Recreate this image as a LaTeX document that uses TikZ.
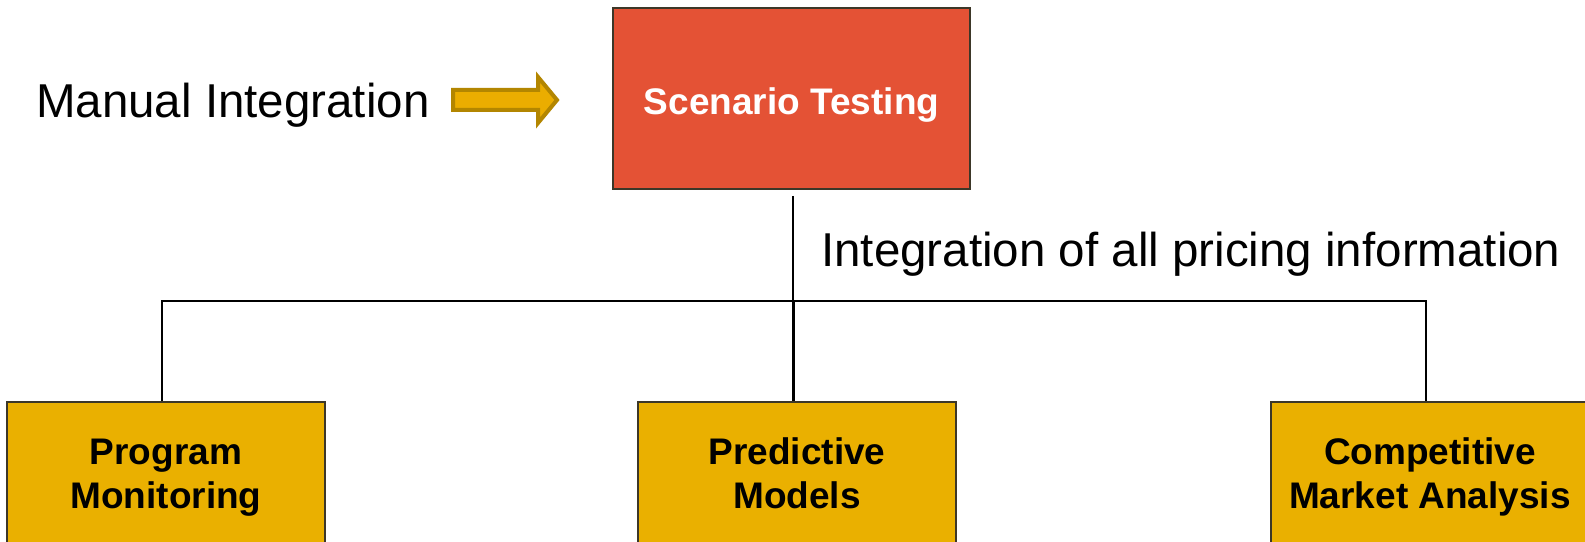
\documentclass[tikz,border=0pt]{standalone}
\usepackage{fontspec}
\setmainfont{Liberation Sans}
\definecolor{topfill}{RGB}{228,82,53}
\definecolor{boxfill}{RGB}{234,176,0}
\definecolor{arrfill}{RGB}{235,173,0}
\definecolor{arrline}{RGB}{179,134,0}
\definecolor{edge}{RGB}{60,55,40}
\tikzset{
  bigtext/.style={font=\fontsize{47.5bp}{57bp}\selectfont, inner sep=0pt, anchor=base west},
  topbox/.style={draw=edge, line width=1.5bp, fill=topfill, text=white, inner sep=0pt,
    minimum width=357bp, minimum height=181bp,
    font=\fontsize{37bp}{44bp}\selectfont\bfseries, text height=32.5bp, text depth=0bp},
  botbox/.style={draw=edge, line width=1.5bp, fill=boxfill, text=black, inner sep=0pt,
    minimum width=318bp, minimum height=150.4bp, align=center,
    font=\fontsize{37bp}{44bp}\selectfont\bfseries},
  conn/.style={draw=black, line width=2bp},
  fatarrow/.style={draw=arrline, fill=arrfill, line width=4bp, line join=miter}
}
\begin{document}
\begin{tikzpicture}[x=1bp,y=-1bp]
\useasboundingbox (0,0) rectangle (1585,542);
% nodes
\node[topbox] (st) at (791.5,98.5) {Scenario Testing};
\node[botbox] (pm) at (166,477.2) {\strut Program\\Monitoring\strut};
\node[botbox] (pd) at (797,477.2) {\strut Predictive\\Models\strut};
\node[botbox] (cm) at (1430,477.2) {\strut Competitive\\Market Analysis\strut};
\node[bigtext] (mi) at (36,118) {Manual Integration};
\node[bigtext] (ip) at (821,267) {Integration of all pricing information};
% arrow
\draw[fatarrow] (453,90) -- (538,90) -- (538,77) -- (557,100) -- (538,123) -- (538,110) -- (453,110) -- cycle;
% connectors
\coordinate (top) at (793,196);
\coordinate (j) at (793,301);
\draw[conn] (top) -- (j);
\draw[conn, line width=3bp] (j) -- (j |- pd.north);
\draw[conn] ([xshift=-4bp]pm.north) |- (j) -| ([xshift=-4bp]cm.north);
\end{tikzpicture}
\end{document}
